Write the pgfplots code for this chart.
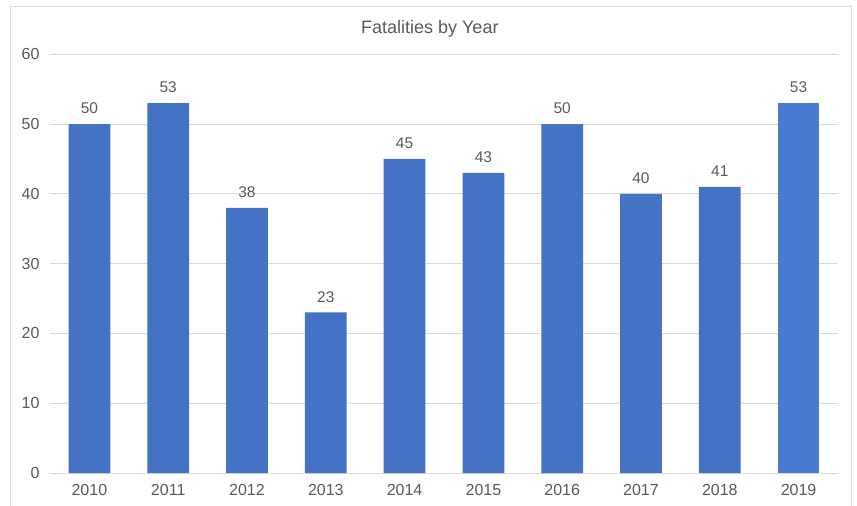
\documentclass[border=0pt]{standalone}
\usepackage{pgfplots}
\pgfplotsset{compat=1.18}
\usepackage{fontspec}
\setmainfont{Liberation Sans}
\definecolor{barblue}{HTML}{4472C4}
\definecolor{barblue2}{HTML}{4A7BD2}
\definecolor{txtgray}{HTML}{595959}
\definecolor{gridgray}{HTML}{D9D9D9}
\begin{document}
\begin{tikzpicture}
\begin{axis}[
  scale only axis,
  width=788pt, height=418.7pt,
  xmin=-0.5, xmax=9.5,
  ymin=0, ymax=60,
  ytick={0,10,20,30,40,50,60},
  xtick={0,...,9},
  xticklabels={2010,2011,2012,2013,2014,2015,2016,2017,2018,2019},
  axis line style={draw=none},
  major tick length=0pt,
  ymajorgrids,
  grid style={gridgray, line width=0.9pt},
  tick label style={font=\fontsize{16}{19}\selectfont, text=txtgray},
  /pgf/number format/assume math mode=true,
  xticklabel style={yshift=-8pt},
  yticklabel style={xshift=-7pt},
  title={Fatalities by Year},
  title style={at={(axis description cs:0.482,1)}, anchor=center, yshift=19pt, font=\fontsize{18}{21}\selectfont, text=txtgray},
  ybar, bar width=0.53,
  bar shift=0pt,
  nodes near coords,
  every node near coord/.append style={font=\fontsize{15.5}{18}\selectfont, text=txtgray, anchor=south, inner sep=0pt, yshift=10pt},
  clip=false,
]
\addplot[fill=barblue, draw=none] coordinates {(0,50) (1,53) (2,38) (3,23) (4,45) (5,43) (6,50) (7,40) (8,41)};
\addplot[fill=barblue2, draw=none] coordinates {(9,53)};
\coordinate (O) at (rel axis cs:0,0);
\end{axis}
\draw[gridgray, line width=0.9pt] ([shift={(-40pt,-40pt)}]O) -- ([shift={(-40pt,467pt)}]O) -- ([shift={(801pt,467pt)}]O) -- ([shift={(801pt,-40pt)}]O);
\pgfresetboundingbox
\path[use as bounding box] ([shift={(-50pt,-33pt)}]O) rectangle ([shift={(807pt,473pt)}]O);
\end{tikzpicture}
\end{document}
